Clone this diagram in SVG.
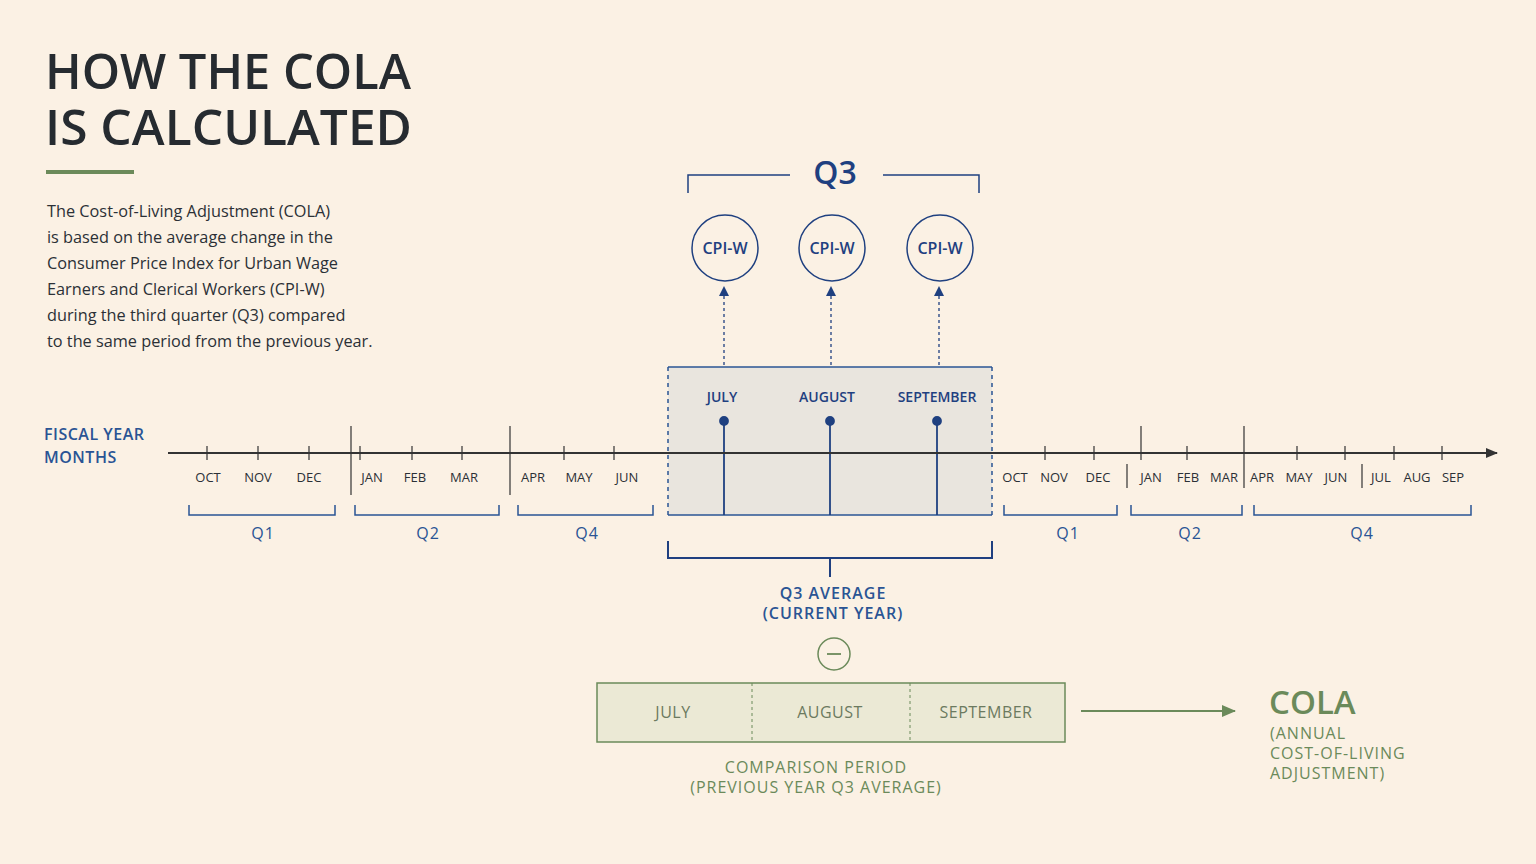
<svg xmlns="http://www.w3.org/2000/svg" width="1536" height="864" viewBox="0 0 1536 864">
<defs>
<style>
text{font-family:"Open Sans","Liberation Sans",sans-serif}
.m{font-size:13px;fill:#2b3036;text-anchor:middle}
.q{font-size:16px;fill:#2a5494;text-anchor:middle;letter-spacing:1px}
.b{stroke:#2a5494;stroke-width:1.5;fill:none}
.k{stroke:#333;stroke-width:1.2}
.g{fill:#6b8a5a}
</style>
<marker id="ab" markerWidth="10" markerHeight="10" refX="9" refY="5" orient="auto" markerUnits="userSpaceOnUse"><path d="M0,0L10,5L0,10z" fill="#1f4080"/></marker>
<marker id="ak" markerWidth="12" markerHeight="10" refX="11" refY="5" orient="auto" markerUnits="userSpaceOnUse"><path d="M0,0L12,5L0,10z" fill="#333"/></marker>
<marker id="ag" markerWidth="14" markerHeight="12" refX="13" refY="6" orient="auto" markerUnits="userSpaceOnUse"><path d="M0,0L14,6L0,12z" fill="#6b8a5a"/></marker>
</defs>
<rect width="1536" height="864" fill="#fbf1e4"/>
<g id="title">
<text x="45" y="89" font-size="48" font-weight="600" fill="#262b30" textLength="366" lengthAdjust="spacingAndGlyphs">HOW THE COLA</text>
<text x="45" y="145" font-size="48" font-weight="600" fill="#262b30" textLength="367" lengthAdjust="spacingAndGlyphs">IS CALCULATED</text>
<rect x="46" y="170" width="88" height="4" fill="#6b8a5a"/>
<g font-size="16.3" fill="#2b3036">
<text x="47" y="217">The Cost-of-Living Adjustment (COLA)</text>
<text x="47" y="243">is based on the average change in the</text>
<text x="47" y="269">Consumer Price Index for Urban Wage</text>
<text x="47" y="295">Earners and Clerical Workers (CPI-W)</text>
<text x="47" y="321">during the third quarter (Q3) compared</text>
<text x="47" y="347">to the same period from the previous year.</text>
</g>
</g>
<g id="q3box">
<rect x="668" y="367" width="324" height="148" fill="#e9e5de"/>
<line x1="668" y1="367" x2="992" y2="367" class="b"/>
<line x1="668" y1="515" x2="992" y2="515" class="b"/>
<line x1="668" y1="367" x2="668" y2="515" class="b" stroke-dasharray="4,4"/>
<line x1="992" y1="367" x2="992" y2="515" class="b" stroke-dasharray="4,4"/>
<g font-size="14" fill="#1f4080" text-anchor="middle" font-weight="600">
<text x="722" y="402">JULY</text><text x="827" y="402">AUGUST</text><text x="937" y="402">SEPTEMBER</text>
</g>
<g stroke="#1f4080" stroke-width="1.8" fill="#1f4080">
<line x1="724" y1="421" x2="724" y2="515"/><circle cx="724" cy="421" r="4"/>
<line x1="830" y1="421" x2="830" y2="515"/><circle cx="830" cy="421" r="4"/>
<line x1="937" y1="421" x2="937" y2="515"/><circle cx="937" cy="421" r="4"/>
</g>
</g>
<g id="timeline">
<line x1="168" y1="453" x2="1497" y2="453" stroke="#333" stroke-width="2" marker-end="url(#ak)"/>
<g class="k">
<line x1="207" y1="446" x2="207" y2="460"/><line x1="258" y1="446" x2="258" y2="460"/><line x1="309" y1="446" x2="309" y2="460"/>
<line x1="360" y1="446" x2="360" y2="460"/><line x1="412" y1="446" x2="412" y2="460"/><line x1="462" y1="446" x2="462" y2="460"/>
<line x1="564" y1="446" x2="564" y2="460"/><line x1="614" y1="446" x2="614" y2="460"/>
<line x1="1045" y1="446" x2="1045" y2="460"/><line x1="1094" y1="446" x2="1094" y2="460"/>
<line x1="1187" y1="446" x2="1187" y2="460"/><line x1="1297" y1="446" x2="1297" y2="460"/><line x1="1345" y1="446" x2="1345" y2="460"/>
<line x1="1394" y1="446" x2="1394" y2="460"/><line x1="1442" y1="446" x2="1442" y2="460"/>
<line x1="351" y1="426" x2="351" y2="495"/><line x1="510" y1="426" x2="510" y2="495"/>
<line x1="1141" y1="426" x2="1141" y2="460"/><line x1="1244" y1="426" x2="1244" y2="488"/>
<line x1="1127" y1="464" x2="1127" y2="488"/><line x1="1362" y1="464" x2="1362" y2="488"/>
</g>
<g class="m">
<text x="208" y="482">OCT</text><text x="258" y="482">NOV</text><text x="309" y="482">DEC</text>
<text x="372" y="482">JAN</text><text x="415" y="482">FEB</text><text x="464" y="482">MAR</text>
<text x="533" y="482">APR</text><text x="579" y="482">MAY</text><text x="627" y="482">JUN</text>
<text x="1015" y="482">OCT</text><text x="1054" y="482">NOV</text><text x="1098" y="482">DEC</text>
<text x="1151" y="482">JAN</text><text x="1188" y="482">FEB</text><text x="1224" y="482">MAR</text>
<text x="1262" y="482">APR</text><text x="1299" y="482">MAY</text><text x="1336" y="482">JUN</text>
<text x="1381" y="482">JUL</text><text x="1417" y="482">AUG</text><text x="1453" y="482">SEP</text>
</g>
<text x="44" y="440" font-size="16" fill="#2a5494" font-weight="600" letter-spacing="0.5">FISCAL YEAR</text>
<text x="44" y="463" font-size="16" fill="#2a5494" font-weight="600" letter-spacing="0.5">MONTHS</text>
<g class="b">
<path d="M189,505V515H335V505"/><path d="M355,505V515H499V505"/><path d="M518,505V515H653V505"/>
<path d="M1004,505V515H1117V505"/><path d="M1131,505V515H1242V505"/><path d="M1254,505V515H1471V505"/>
</g>
<g class="q">
<text x="263" y="539">Q1</text><text x="428" y="539">Q2</text><text x="587" y="539">Q4</text>
<text x="1068" y="539">Q1</text><text x="1190" y="539">Q2</text><text x="1362" y="539">Q4</text>
</g>
</g>
<g id="cpi">
<path d="M688,193V175H790M883,175H979V193" stroke="#1f4080" stroke-width="1.5" fill="none"/>
<text x="835" y="184" font-size="32" fill="#1f4080" text-anchor="middle" font-weight="600">Q3</text>
<g stroke="#1f4080" stroke-width="1.5" fill="none">
<circle cx="725" cy="248" r="33"/><circle cx="832" cy="248" r="33"/><circle cx="940" cy="248" r="33"/>
</g>
<g font-size="16" fill="#1f4080" text-anchor="middle" font-weight="600">
<text x="725" y="254">CPI-W</text><text x="832" y="254">CPI-W</text><text x="940" y="254">CPI-W</text>
</g>
</g>
<g id="connectors" stroke="#1f4080" stroke-width="1.3" fill="none">
<line x1="724" y1="365" x2="724" y2="287" stroke-dasharray="3,3" marker-end="url(#ab)"/>
<line x1="831" y1="365" x2="831" y2="287" stroke-dasharray="3,3" marker-end="url(#ab)"/>
<line x1="939" y1="365" x2="939" y2="287" stroke-dasharray="3,3" marker-end="url(#ab)"/>
<path d="M668,541V558H992V541M830,558V577" stroke-width="2"/>
<line x1="1081" y1="711" x2="1235" y2="711" stroke="#6b8a5a" stroke-width="1.8" marker-end="url(#ag)"/>
</g>
<g id="avg">
<text x="833" y="599" class="q" font-weight="600">Q3 AVERAGE</text>
<text x="833" y="619" class="q" font-weight="600">(CURRENT YEAR)</text>
<circle cx="834" cy="654" r="16" fill="none" stroke="#6b8a5a" stroke-width="1.5"/>
<line x1="827" y1="654" x2="841" y2="654" stroke="#6b8a5a" stroke-width="1.8"/>
</g>
<g id="comparison">
<rect x="597" y="683" width="468" height="59" fill="#ebe9d5" stroke="#6b8a5a" stroke-width="1.5"/>
<line x1="752" y1="683" x2="752" y2="742" stroke="#6b8a5a" stroke-dasharray="3,3"/>
<line x1="910" y1="683" x2="910" y2="742" stroke="#6b8a5a" stroke-dasharray="3,3"/>
<g font-size="16" fill="#6b7a60" text-anchor="middle" letter-spacing="0.5">
<text x="673" y="718">JULY</text><text x="830" y="718">AUGUST</text><text x="986" y="718">SEPTEMBER</text>
</g>
<text x="816" y="773" class="q" style="fill:#6b8a5a">COMPARISON PERIOD</text>
<text x="816" y="793" class="q" style="fill:#6b8a5a">(PREVIOUS YEAR Q3 AVERAGE)</text>
</g>
<g id="cola" class="g">
<text x="1269" y="714" font-size="33" font-weight="600">COLA</text>
<text x="1270" y="739" font-size="16" letter-spacing="1">(ANNUAL</text>
<text x="1270" y="759" font-size="16" letter-spacing="1">COST-OF-LIVING</text>
<text x="1270" y="779" font-size="16" letter-spacing="1">ADJUSTMENT)</text>
</g>
</svg>
